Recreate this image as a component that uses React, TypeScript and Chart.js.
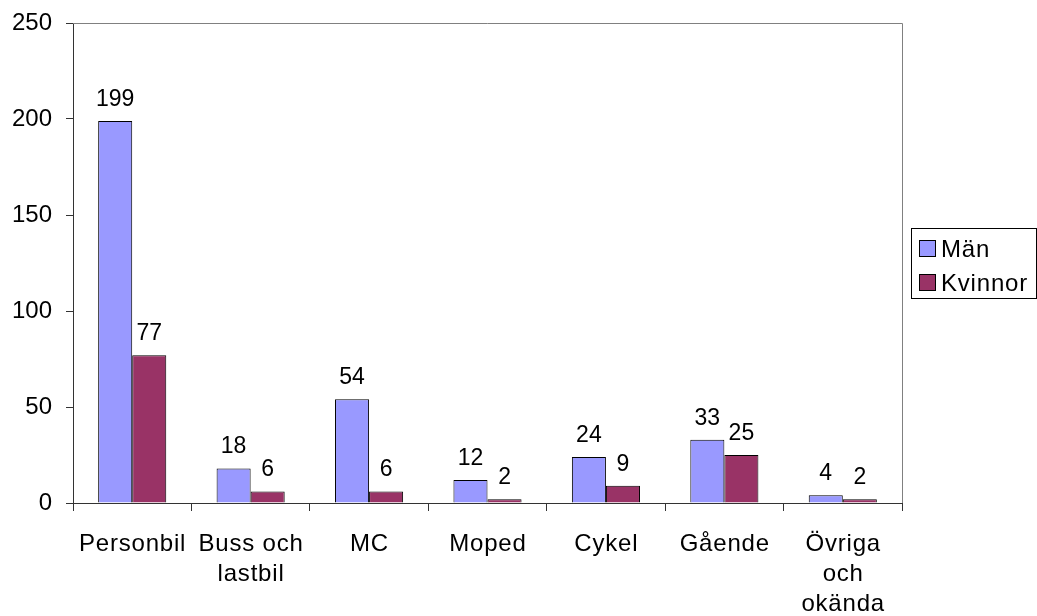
import React, { useEffect, useRef } from "react";
import { Chart, registerables } from "chart.js";

Chart.register(...registerables);

const categories: (string | string[])[] = [
  "Personbil",
  ["Buss och", "lastbil"],
  "MC",
  "Moped",
  "Cykel",
  "Gående",
  ["Övriga", "och", "okända"],
];
const manValues = [199, 18, 54, 12, 24, 33, 4];
const kvinnorValues = [77, 6, 6, 2, 9, 25, 2];
const seriesNames = ["Män", "Kvinnor"];
const seriesColors = ["#9999FF", "#993366"];
const yTicks = [0, 50, 100, 150, 200, 250];

const FONT = "Liberation Sans, Arial, sans-serif";

const labelsPlugin = {
  id: "valueLabels",
  afterDatasetsDraw(chart: any) {
    const ctx = chart.ctx;
    ctx.save();
    ctx.font = `23px ${FONT}`;
    ctx.fillStyle = "#000";
    ctx.textAlign = "center";
    ctx.textBaseline = "alphabetic";
    chart.data.datasets.forEach((ds: any, i: number) => {
      const meta = chart.getDatasetMeta(i);
      meta.data.forEach((bar: any, j: number) => {
        ctx.fillText(String(ds.data[j]), bar.x, bar.y - 15);
      });
    });
    ctx.restore();
  },
};

const framePlugin = {
  id: "frame",
  afterDraw(chart: any) {
    const { ctx, chartArea } = chart;
    const { left, right, top, bottom } = chartArea;
    ctx.save();
    ctx.strokeStyle = "#808080";
    ctx.lineWidth = 1;
    ctx.beginPath();
    ctx.moveTo(left, top + 0.5);
    ctx.lineTo(right + 0.5, top + 0.5);
    ctx.lineTo(right + 0.5, bottom);
    ctx.stroke();

    // category labels
    const xs = chart.scales.x;
    ctx.fillStyle = "#000";
    ctx.font = `24px ${FONT}`;
    (ctx as any).letterSpacing = "0.8px";
    ctx.textAlign = "center";
    ctx.textBaseline = "alphabetic";
    categories.forEach((c, i) => {
      const lines = Array.isArray(c) ? c : [c];
      const x = xs.getPixelForTick(i);
      lines.forEach((ln, k) => {
        ctx.fillText(ln, x + 0.4, 550.5 + k * 30.3);
      });
    });

    // legend
    const lx = 911, ly = 228, lw = 125, lh = 70;
    ctx.strokeStyle = "#000";
    ctx.strokeRect(lx + 0.5, ly + 0.5, lw, lh);
    ctx.textAlign = "left";
    seriesNames.forEach((name, i) => {
      const cy = 248 + i * 34;
      ctx.fillStyle = seriesColors[i];
      ctx.fillRect(919.5, cy - 7.5, 16, 16);
      ctx.strokeStyle = "#000";
      ctx.strokeRect(919.5, cy - 7.5, 16, 16);
      ctx.fillStyle = "#000";
      ctx.fillText(name, 941, cy + 9);
    });
    ctx.restore();
  },
};

export default function App() {
  const ref = useRef<HTMLCanvasElement>(null);
  useEffect(() => {
    document.body.style.margin = "0";
    const chart = new Chart(ref.current!, {
      type: "bar",
      data: {
        labels: categories,
        datasets: [
          {
            label: seriesNames[0],
            data: manValues,
            backgroundColor: seriesColors[0],
            borderColor: "#000",
            borderWidth: 1,
            categoryPercentage: 0.575,
            barPercentage: 1,
          },
          {
            label: seriesNames[1],
            data: kvinnorValues,
            backgroundColor: seriesColors[1],
            borderColor: "#000",
            borderWidth: 1,
            categoryPercentage: 0.575,
            barPercentage: 1,
          },
        ],
      },
      options: {
        animation: false,
        responsive: false,
        layout: { padding: { top: 23, right: 135, left: 0, bottom: 0 } },
        plugins: { legend: { display: false }, tooltip: { enabled: false } },
        scales: {
          x: {
            afterFit(scale: any) {
              scale.height = 113;
              scale.paddingLeft = 0;
              scale.paddingRight = 0;
            },
            grid: {
              display: true,
              drawOnChartArea: false,
              tickLength: 8,
              color: "#333",
              offset: true,
            },
            border: { color: "#333", width: 1 },
            ticks: {
              display: false,
            },
          },
          y: {
            min: 0,
            max: 250,
            afterFit(scale: any) {
              scale.width = 73;
              scale.paddingTop = 0;
              scale.paddingBottom = 0;
            },
            afterBuildTicks(scale: any) {
              scale.ticks = yTicks.map((v) => ({ value: v }));
            },
            grid: {
              display: true,
              drawOnChartArea: false,
              tickLength: 7,
              color: "#333",
            },
            border: { color: "#333", width: 1 },
            ticks: {
              color: "#000",
              font: { family: FONT, size: 24 },
              padding: 14,
            },
          },
        },
      },
      plugins: [labelsPlugin, framePlugin],
    });
    return () => chart.destroy();
  }, []);
  return <canvas ref={ref} width={1037} height={616} style={{ display: "block" }} />;
}
